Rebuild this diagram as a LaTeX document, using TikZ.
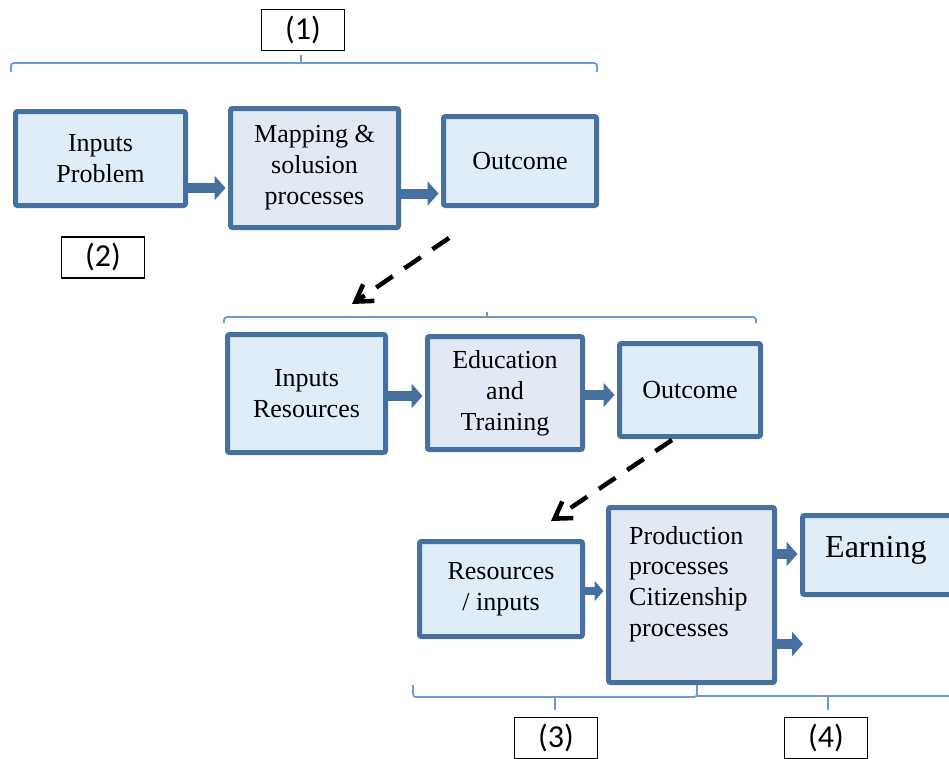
\documentclass[tikz,border=0pt]{standalone}
\usepackage{fontspec}
\newfontfamily\tnr{Liberation Serif}
\newfontfamily\calib{Carlito}
\usetikzlibrary{arrows.meta}
\definecolor{bord}{RGB}{70,112,160}
\definecolor{fillA}{RGB}{222,237,247}
\definecolor{fillB}{RGB}{226,233,244}
\definecolor{brk}{RGB}{106,155,212}
\begin{document}
\begin{tikzpicture}[x=1pt,y=-1pt,
  box/.style={draw=bord, line width=5pt, fill=fillA, rounded corners=2pt, inner sep=0pt, align=center, font=\tnr\fontsize{26}{31}\selectfont},
  boxB/.style={box, fill=fillB},
  lab/.style={draw=black, line width=1.2pt, fill=white, inner sep=0pt, minimum width=83pt, minimum height=41pt, font=\calib\fontsize{32}{36}\selectfont},
  barr/.style={draw=bord, line width=10pt, -{Triangle[length=11pt,width=24pt]}, shorten >=2.5pt},
  brace/.style={draw=brk, line width=1.8pt, rounded corners=3pt},
  dasharr/.style={draw=black, line width=4.5pt, dash pattern=on 20pt off 14pt, -{Straight Barb[length=16pt,width=20pt]}}]
\useasboundingbox (0,0) rectangle (949,758);
\clip (0,0) rectangle (949,758);

% brackets
\draw[brace] (11,72) -- (11,63) -- (597,63) -- (597,72);
\draw[brace] (301,63) -- (301,55);
\draw[brace] (224,323) -- (224,317) -- (756,317) -- (756,323);
\draw[brace] (487,317) -- (487,312);
\draw[brace] (413,685) -- (413,697) -- (697,697) -- (697,685);
\draw[brace] (555,697) -- (555,710);
\draw[brace] (697,696) -- (960,696);
\draw[brace] (828,696) -- (828,710);

% boxes
\node[box, minimum width=170pt, minimum height=94pt] (A) at (100.5,158.5) {Inputs\\Problem};
\node[boxB, minimum width=168pt, minimum height=119pt] (B) at (314.5,168) {Mapping \&\\solusion\\processes};
\node[box, minimum width=153pt, minimum height=89pt] (C) at (520,161) {Outcome};
\node[box, minimum width=158pt, minimum height=118pt] (D) at (306.5,393.5) {Inputs\\Resources};
\node[boxB, minimum width=155pt, minimum height=113pt] (E) at (505,393) {Education\\and\\Training};
\node[box, minimum width=141pt, minimum height=93pt] (F) at (690,390) {Outcome};
\node[box, minimum width=163pt, minimum height=95pt] (G) at (501,589) {Resources\\/ inputs};
\node[boxB, minimum width=166pt, minimum height=175pt] (H) at (691.5,595) {};
\node[anchor=north west, align=left, inner sep=0pt, font=\tnr\fontsize{26}{30.6}\selectfont] (Ht) at (629,526) {Production\\processes\\Citizenship\\processes};
\node[box, minimum width=175pt, minimum height=79pt] (I) at (890,555) {};
\node[anchor=base west, inner sep=0pt, font=\tnr\fontsize{32}{36}\selectfont] (It) at (825,557) {Earning};

% block arrows
\draw[barr] (A.east |- 0,188) -- (B.west |- 0,188);
\draw[barr] (B.east |- 0,193.5) -- (C.west |- 0,193.5);
\draw[barr] (D.east |- 0,396) -- (E.west |- 0,396);
\draw[barr] (E.east |- 0,395) -- (F.west |- 0,395);
\draw[barr, line width=8pt, -{Triangle[length=9pt,width=20pt]}] (G.east |- 0,591) -- (H.west |- 0,591);
\draw[barr] (H.east |- 0,554) -- (I.west |- 0,554);
\coordinate (hx) at (803,644);
\draw[barr, shorten >=0pt] (H.east |- 0,644) -- (hx);

% dashed arrows
\coordinate (d1s) at (449,238);
\coordinate (d1e) at (352,304);
\draw[dasharr] (d1s) -- (d1e);
\coordinate (d2s) at (672,440);
\coordinate (d2e) at (551,521);
\draw[dasharr] (d2s) -- (d2e);

% labels
\node[lab] (L1) at (303,30) {(1)};
\node[lab] (L2) at (103,257.5) {(2)};
\node[lab] (L3) at (556,738) {(3)};
\node[lab] (L4) at (826,738) {(4)};
\end{tikzpicture}
\end{document}
